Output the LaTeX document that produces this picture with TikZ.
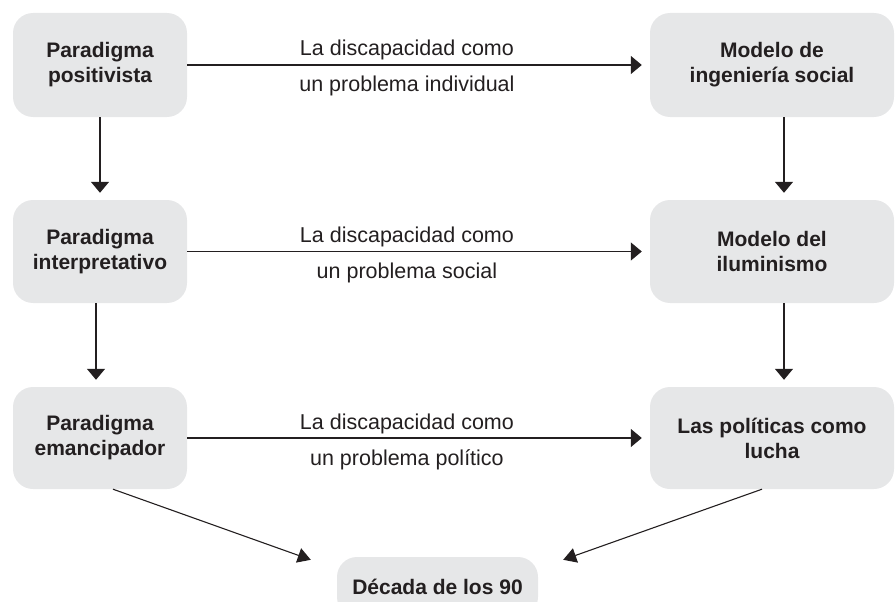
\documentclass[tikz,border=0pt]{standalone}
\usepackage{fontspec}
\setmainfont{Liberation Sans}
\usetikzlibrary{arrows.meta}
\definecolor{cajagris}{HTML}{E6E7E8}
\definecolor{tinta}{HTML}{231F20}
\tikzset{
  caja/.style={rectangle,rounded corners=20pt,fill=cajagris,text=tinta,inner sep=0pt,
    align=center,font=\fontsize{21}{25}\selectfont\bfseries},
  flecha/.style={draw=tinta,line width=1.2pt,shorten >=7pt,-{Triangle[width=18pt,length=11pt]}},
  diag/.style={draw=tinta,line width=1.1pt,-{Triangle[width=15pt,length=13pt]}},
  etiq/.style={text=tinta,anchor=base,font=\fontsize{21.5}{25}\selectfont}
}
\begin{document}
\begin{tikzpicture}[x=1pt,y=-1pt]
        \clip (0,0) rectangle (895,602);
        \node at (100,65) [caja,minimum width=174pt,minimum height=104pt] (p1) {Paradigma\\positivista};
        \node at (100,251.5) [caja,minimum width=174pt,minimum height=103pt] (p2) {Paradigma\\interpretativo};
        \node at (100,438) [caja,minimum width=174pt,minimum height=102pt] (p3) {Paradigma\\emancipador};
        \node at (772,65) [caja,minimum width=244pt,minimum height=104pt] (m1) {Modelo de\\ingeniería social};
        \node at (772,251.5) [caja,minimum width=244pt,minimum height=103pt] (m2) {Modelo del\\iluminismo};
        \node at (772,438) [caja,minimum width=244pt,minimum height=102pt] (m3) {Las políticas como\\lucha};
        \node at (437.5,587) [caja,minimum width=201pt,minimum height=60pt] (d90) {Década de los 90};
        \coordinate (dl) at ([shift={(-26pt,-3pt)}]d90.north west);
        \coordinate (dr) at ([shift={(25pt,-3pt)}]d90.north east);
        \draw[flecha,shorten >=8pt] (p1.east) -- (m1.west)
            node[etiq,pos=.475,yshift=9pt] {La discapacidad como}
            node[etiq,pos=.475,yshift=-27pt] {un problema individual};
        \draw[flecha,shorten >=8pt] (p2.east) -- (m2.west)
            node[etiq,pos=.475,yshift=9pt] {La discapacidad como}
            node[etiq,pos=.475,yshift=-27pt] {un problema social};
        \draw[flecha,shorten >=8pt] (p3.east) -- (m3.west)
            node[etiq,pos=.475,yshift=9pt] {La discapacidad como}
            node[etiq,pos=.475,yshift=-27pt] {un problema político};
        \draw[flecha] (p1.south) -- (p2.north);
        \draw[flecha] ([xshift=-4pt]p2.south) -- ([xshift=-4pt]p3.north);
        \draw[flecha] ([xshift=12pt]m1.south) -- ([xshift=12pt]m2.north);
        \draw[flecha] ([xshift=12pt]m2.south) -- ([xshift=12pt]m3.north);
        \draw[diag] ([xshift=13pt]p3.south) -- (dl);
        \draw[diag] ([xshift=-10pt]m3.south) -- (dr);
\end{tikzpicture}
\end{document}
